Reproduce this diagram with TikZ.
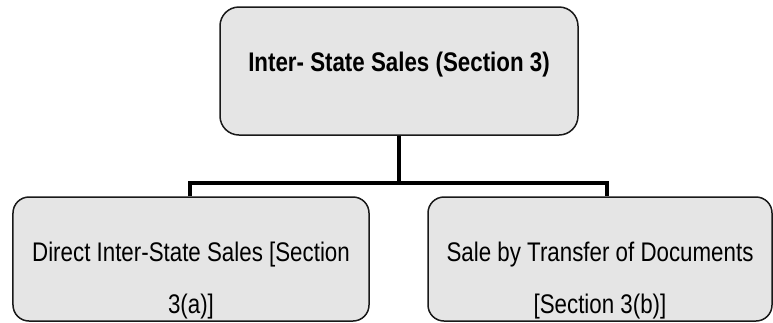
\documentclass[tikz,border=0pt]{standalone}
\usepackage{fontspec}
\setmainfont[FakeStretch=0.83]{Liberation Sans}
\definecolor{BoxGrey}{gray}{0.9}
\definecolor{BoxLine}{gray}{0.1}
\usetikzlibrary{positioning,calc}
\begin{document}
\begin{tikzpicture}[x=1bp,y=-1bp,
						sectionbox/.style={draw=BoxLine,line width=1.5bp,fill=BoxGrey,rounded corners=16bp,inner sep=0pt},
						boxtext/.style={font=\fontsize{27}{52}\selectfont,align=center,inner sep=0pt},
						bus/.style={line width=4.5bp}
					]
					\useasboundingbox (0,0) rectangle (773,322);
					\node[sectionbox,minimum width=358bp,minimum height=128bp,rounded corners=19bp] (S) at (399,71) {};
					\node[sectionbox,minimum width=356bp,minimum height=124bp] (A) at (191,259) {};
					\node[sectionbox,minimum width=344bp,minimum height=124bp] (B) at (600,259) {};

					\node[boxtext,font=\fontsize{27}{52}\selectfont\bfseries,anchor=base] (St) at (S.center) {Inter- State Sales (Section 3)};
					\node[boxtext,anchor=base] (At) at ([yshift=-54bp]A.center) {Direct Inter-State Sales [Section\\3(a)]};
					\node[boxtext,anchor=base] (Bt) at ([yshift=-54bp]B.center) {Sale by Transfer of Documents\\{}[Section 3(b)]};

					\coordinate (busA) at (190,183);
					\coordinate (busB) at (607,183);
					%\draw[bus] (S.south) |- (busA);
					\draw[bus] (S.south) -- (S.south |- busA);
					\draw[bus] (A.north -| busA) -- (busA) -- (busB) -- (B.north -| busB);
				\end{tikzpicture}
\end{document}
